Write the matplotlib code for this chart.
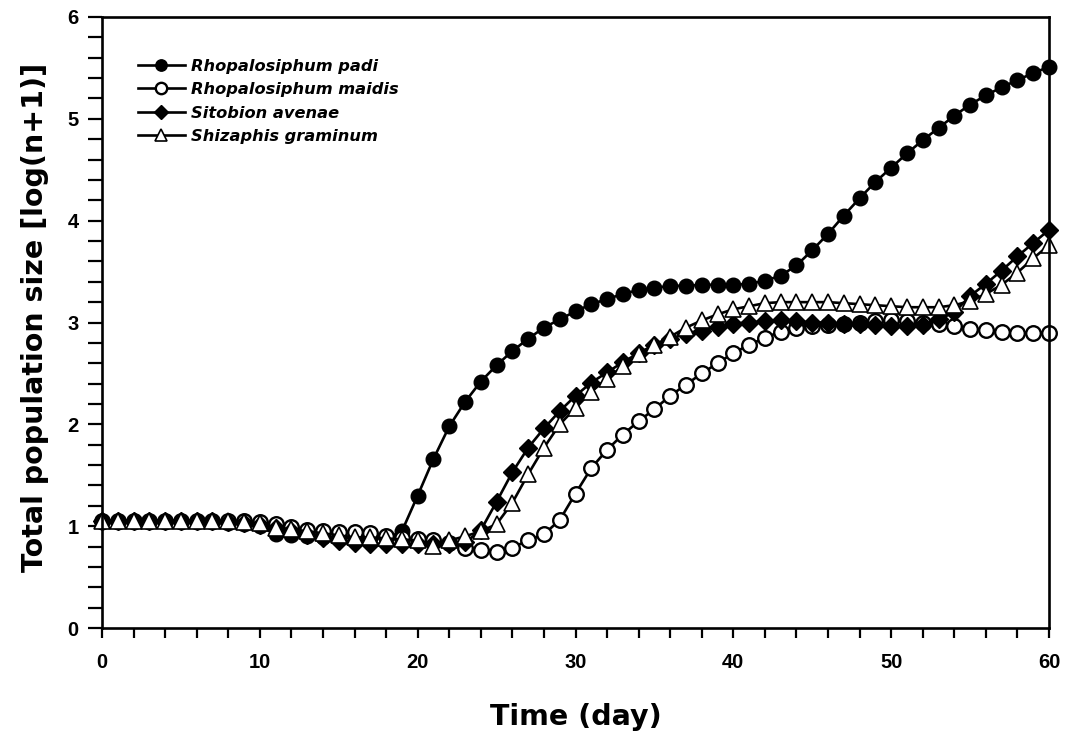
import matplotlib
matplotlib.use("Agg")
import matplotlib.pyplot as plt
import numpy as np

days = list(range(0, 61))

padi = [1.04] * 8 + [
    1.03, 1.02, 1.00, 0.92, 0.91, 0.90, 0.89, 0.89, 0.88, 0.88, 0.88,
    0.95, 1.30, 1.66, 1.98, 2.22, 2.42, 2.58, 2.72, 2.84, 2.95,
    3.03, 3.11, 3.18, 3.23, 3.28, 3.32, 3.34, 3.36, 3.36, 3.37,
    3.37, 3.37, 3.38, 3.41, 3.46, 3.56, 3.71, 3.87, 4.05, 4.22,
    4.38, 4.52, 4.66, 4.79, 4.91, 5.03, 5.14, 5.23, 5.31, 5.38,
    5.45, 5.51]

maidis = [1.05] * 10 + [
    1.04, 1.02, 0.99, 0.96, 0.95, 0.94, 0.94, 0.93, 0.90, 0.88,
    0.87, 0.86, 0.83, 0.79, 0.77, 0.75, 0.79, 0.86, 0.92, 1.06,
    1.32, 1.57, 1.75, 1.90, 2.03, 2.15, 2.28, 2.39, 2.50, 2.60,
    2.70, 2.78, 2.85, 2.91, 2.95, 2.97, 2.98, 2.99, 3.00, 3.01,
    3.02, 3.01, 3.00, 2.99, 2.97, 2.94, 2.93, 2.91, 2.90, 2.90,
    2.90]

avenae = [1.05] * 8 + [
    1.04, 1.03, 1.01, 0.98, 0.95, 0.91, 0.88, 0.85, 0.83, 0.82,
    0.82, 0.82, 0.82, 0.82, 0.82, 0.84, 0.96, 1.24, 1.53, 1.77,
    1.96, 2.13, 2.28, 2.41, 2.51, 2.61, 2.70, 2.78, 2.84, 2.89,
    2.92, 2.96, 2.99, 3.00, 3.01, 3.02, 3.01, 3.00, 3.00, 2.99,
    2.99, 2.98, 2.97, 2.97, 2.98, 3.03, 3.10, 3.26, 3.38, 3.51,
    3.65, 3.78, 3.91]

graminum = [1.05] * 9 + [
    1.04, 1.03, 0.98, 0.97, 0.95, 0.93, 0.91, 0.89, 0.89, 0.88,
    0.87, 0.86, 0.81, 0.86, 0.90, 0.95, 1.02, 1.23, 1.51, 1.77,
    2.00, 2.16, 2.32, 2.45, 2.57, 2.69, 2.78, 2.86, 2.95, 3.02,
    3.08, 3.13, 3.16, 3.19, 3.20, 3.20, 3.20, 3.20, 3.19, 3.18,
    3.17, 3.16, 3.15, 3.15, 3.15, 3.17, 3.21, 3.28, 3.37, 3.49,
    3.63, 3.76]

series_names = ["Rhopalosiphum padi", "Rhopalosiphum maidis",
                "Sitobion avenae", "Shizaphis graminum"]

x_major = [0, 10, 20, 30, 40, 50, 60]
y_major = [0, 1, 2, 3, 4, 5, 6]

plt.rcParams['font.family'] = ['Liberation Sans', 'DejaVu Sans']
plt.rcParams['font.weight'] = 'bold'

fig = plt.figure(figsize=(10.75, 7.32), dpi=100)
ax = fig.add_axes([102/1075, 1 - 628/732, (1049-102)/1075, (628-17)/732])

lw = 1.9
ms = 10.5
styles = [
    dict(marker='o', markerfacecolor='black', markeredgecolor='black', markersize=ms),
    dict(marker='o', markerfacecolor='white', markeredgecolor='black', markersize=ms, markeredgewidth=1.7),
    dict(marker='D', markerfacecolor='black', markeredgecolor='black', markersize=ms*0.9),
    dict(marker='^', markerfacecolor='white', markeredgecolor='black', markersize=ms*1.05, markeredgewidth=1.2),
]
for vals, name, st in zip([padi, maidis, avenae, graminum], series_names, styles):
    ax.plot(days, vals, color='black', linewidth=lw, label=name, clip_on=False, **st)

ax.set_xlim(0, 60)
ax.set_ylim(0, 6)
ax.set_xticks(x_major)
ax.set_xticks(np.arange(0, 61, 2), minor=True)
ax.set_yticks(y_major)
ax.set_yticks(np.arange(0, 6.01, 0.2), minor=True)

for s in ax.spines.values():
    s.set_linewidth(1.9)

ax.tick_params(axis='x', which='both', direction='out', length=7, width=1.6, pad=11, labelsize=14.5)
ax.tick_params(axis='y', which='both', direction='out', length=10, width=1.6, pad=7, labelsize=14.5)

label_font = dict(family=['DejaVu Sans'], fontweight='bold', fontsize=20.5)
ax.set_xlabel("Time (day)", **label_font)
ax.set_ylabel("Total population size [log(n+1)]", **label_font)
ax.xaxis.set_label_coords(0.5, -0.122)
ax.yaxis.set_label_coords(-0.056, 0.508)

leg = ax.legend(loc='upper left', bbox_to_anchor=(0.031, 0.9425), frameon=False,
                handlelength=2.9, handletextpad=0.4, labelspacing=0.52,
                prop=dict(family='DejaVu Sans', weight='bold', style='italic', size=11.7),
                borderaxespad=0, markerscale=0.78)

fig.savefig("out.png", dpi=100)
